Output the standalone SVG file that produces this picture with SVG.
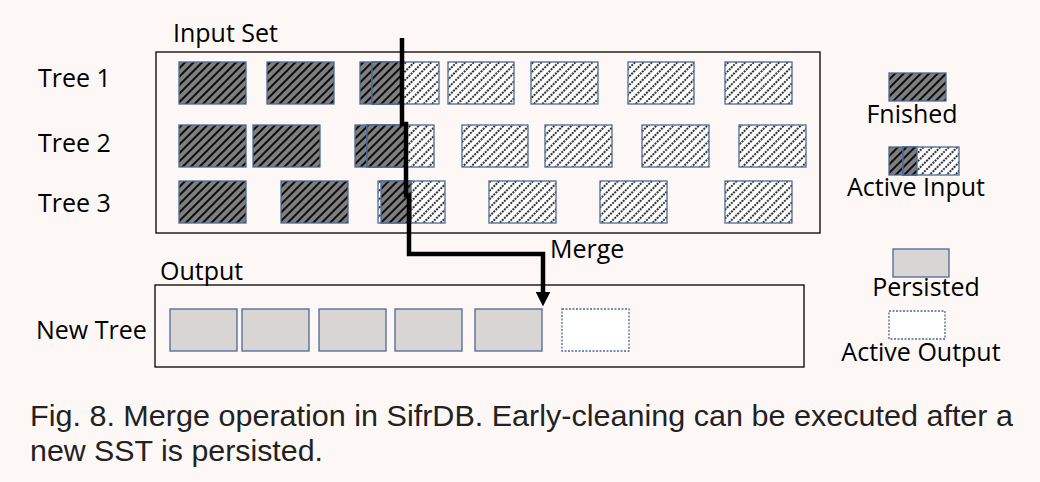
<svg xmlns="http://www.w3.org/2000/svg" width="1040" height="482" viewBox="0 0 1040 482">
<defs>
<pattern id="dk" width="6" height="6" patternUnits="userSpaceOnUse" patternTransform="rotate(45)">
<rect width="6" height="6" fill="#7f7f7f"/>
<line x1="1" y1="0" x2="1" y2="6" stroke="#000" stroke-width="1.8"/>
</pattern>
<pattern id="lt" width="6" height="6" patternUnits="userSpaceOnUse" patternTransform="rotate(45)">
<rect width="6" height="6" fill="#fff"/>
<line x1="1" y1="0" x2="1" y2="6" stroke="#000" stroke-width="1.6" stroke-dasharray="2 1"/>
</pattern>
<marker id="ah" markerWidth="3.2" markerHeight="3.2" refX="0" refY="2" orient="auto" markerUnits="strokeWidth" viewBox="0 0 4 4">
<path d="M0,0 L4,2 L0,4 Z" fill="#000"/>
</marker>
</defs>
<style>
.bg{fill:#fdf8f6}
.box{fill:none;stroke:#000;stroke-width:1.3}
.d{fill:url(#dk);stroke:#4a6a98;stroke-width:1.3}
.l{fill:url(#lt);stroke:#4a6a98;stroke-width:1.3}
.p{fill:#d8d5d2;stroke:#4a6a98;stroke-width:1.3}
.o{fill:#fff;stroke:#4a6a98;stroke-width:1.3;stroke-dasharray:2 1.5}
.t{font-family:"Open Sans","Noto Sans",sans-serif;font-size:25px;fill:#000}
.c{font-family:"Liberation Sans",Arial,sans-serif;font-size:29px;fill:#222}
.conn{fill:none;stroke:#000;stroke-width:4.5}
</style>
<rect class="bg" width="1040" height="482"/>

<g id="input-set">
<rect class="box" x="156" y="52" width="664" height="181"/>
<text class="t" x="173" y="42">Input Set</text>
</g>

<g id="tree1">
<text class="t" x="38" y="87">Tree 1</text>
<rect class="d" x="179" y="62" width="67" height="42"/>
<rect class="d" x="267" y="62" width="67" height="42"/>
<rect class="d" x="360" y="62" width="44" height="42"/>
<rect class="l" x="372" y="62" width="67" height="42"/>
<rect class="d" x="372" y="62" width="31" height="42"/>
<rect class="l" x="448" y="62" width="66" height="42"/>
<rect class="l" x="531" y="62" width="67" height="42"/>
<rect class="l" x="628" y="62" width="66" height="42"/>
<rect class="l" x="725" y="62" width="67" height="42"/>
</g>

<g id="tree2">
<text class="t" x="38" y="152">Tree 2</text>
<rect class="d" x="179" y="125" width="67" height="42"/>
<rect class="d" x="253" y="125" width="67" height="42"/>
<rect class="d" x="355" y="125" width="48" height="42"/>
<rect class="l" x="367" y="125" width="67" height="42"/>
<rect class="d" x="367" y="125" width="38" height="42"/>
<rect class="l" x="462" y="125" width="66" height="42"/>
<rect class="l" x="545" y="125" width="67" height="42"/>
<rect class="l" x="642" y="125" width="67" height="42"/>
<rect class="l" x="739" y="125" width="67" height="42"/>
</g>

<g id="tree3">
<text class="t" x="38" y="212">Tree 3</text>
<rect class="d" x="179" y="181" width="67" height="42"/>
<rect class="d" x="281" y="181" width="67" height="42"/>
<rect class="l" x="378" y="181" width="67" height="42"/>
<rect class="d" x="381" y="181" width="30" height="42"/>
<rect class="l" x="489" y="181" width="67" height="42"/>
<rect class="l" x="600" y="181" width="67" height="42"/>
<rect class="l" x="725" y="181" width="67" height="42"/>
</g>

<g id="output">
<rect class="box" x="155" y="285" width="649" height="82"/>
<text class="t" x="160" y="280">Output</text>
<text class="t" x="36" y="339">New Tree</text>
<rect class="p" x="170" y="309" width="67" height="42"/>
<rect class="p" x="242" y="309" width="67" height="42"/>
<rect class="p" x="319" y="309" width="67" height="42"/>
<rect class="p" x="395" y="309" width="67" height="42"/>
<rect class="p" x="475" y="309" width="67" height="42"/>
<rect class="o" x="562" y="309" width="67" height="42"/>
</g>

<g id="connectors">
<path class="conn" d="M402,38 V124 H406 V195 H409 V254 H543 V292" marker-end="url(#ah)"/>
<text class="t" x="550" y="258">Merge</text>
</g>

<g id="legend-finished">
<rect class="d" x="889" y="73" width="57" height="28"/>
<text class="t" x="912" y="123" text-anchor="middle">Fnished</text>
</g>
<g id="legend-active-input">
<rect class="d" x="889" y="147" width="28" height="28"/>
<rect class="l" x="903" y="147" width="56" height="28"/>
<rect class="d" x="903" y="147" width="14" height="28"/>
<text class="t" x="916" y="196" text-anchor="middle">Active Input</text>
</g>
<g id="legend-persisted">
<rect class="p" x="893" y="249" width="56" height="28"/>
<text class="t" x="926" y="296" text-anchor="middle">Persisted</text>
</g>
<g id="legend-active-output">
<rect class="o" x="889" y="311" width="56" height="28"/>
<text class="t" x="921" y="361" text-anchor="middle">Active Output</text>
</g>

<g id="caption">
<text class="c" x="30" y="426" textLength="983" lengthAdjust="spacingAndGlyphs">Fig. 8. Merge operation in SifrDB. Early-cleaning can be executed after a</text>
<text class="c" x="30" y="461" textLength="293" lengthAdjust="spacingAndGlyphs">new SST is persisted.</text>
</g>
</svg>
